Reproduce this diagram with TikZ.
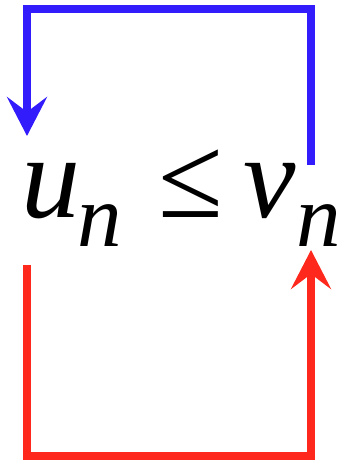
\documentclass[tikz,border=0pt]{standalone}
\usepackage{fontspec}
\setmainfont{Liberation Serif}[ItalicFont={Liberation Serif Italic}]
\definecolor{lpblue}{RGB}{50,28,252}
\definecolor{lpred}{RGB}{255,40,28}
\usetikzlibrary{arrows.meta}

\begin{document}
\begin{tikzpicture}[x=1pt,y=1pt]
    \tikzset{bigsym/.style={inner sep=0pt, outer sep=0pt, anchor=base west,
      font=\rmfamily\fontsize{118}{118}\selectfont},
      subsym/.style={inner sep=0pt, outer sep=0pt, anchor=base west,
      font=\rmfamily\fontsize{89}{89}\selectfont\itshape},
      loop/.style={line width=8pt, -{Stealth[length=39pt, width=40pt, inset=15pt]}}}
    \useasboundingbox (0,0) rectangle (345,460);

    % u_n <= v_n
    \node[bigsym, font=\rmfamily\fontsize{118}{118}\selectfont\itshape] (u) at (21,242) {u};
    \node[subsym] (un) at (77,213) {n};
    \node[bigsym] (leq) at (158,242) {≤};
    \node[bigsym, font=\rmfamily\fontsize{118}{118}\selectfont\itshape] (v) at (243,242) {v};
    \node[subsym] (vn) at (296,213) {n};

    % end points of the two loops
    \coordinate (vtop) at (311,295);
    \coordinate (utop) at (27,324);
    \coordinate (ubot) at (27,195);
    \coordinate (vbot) at (311,210);

    % blue loop: v_n back to u_n
    \draw[loop, draw=lpblue] (vtop) -- ++(0,156) -| (utop);
    % red loop: u_n over to v_n
    \draw[loop, draw=lpred] (ubot) -- ++(0,-191) -| (vbot);
  \end{tikzpicture}
\end{document}
